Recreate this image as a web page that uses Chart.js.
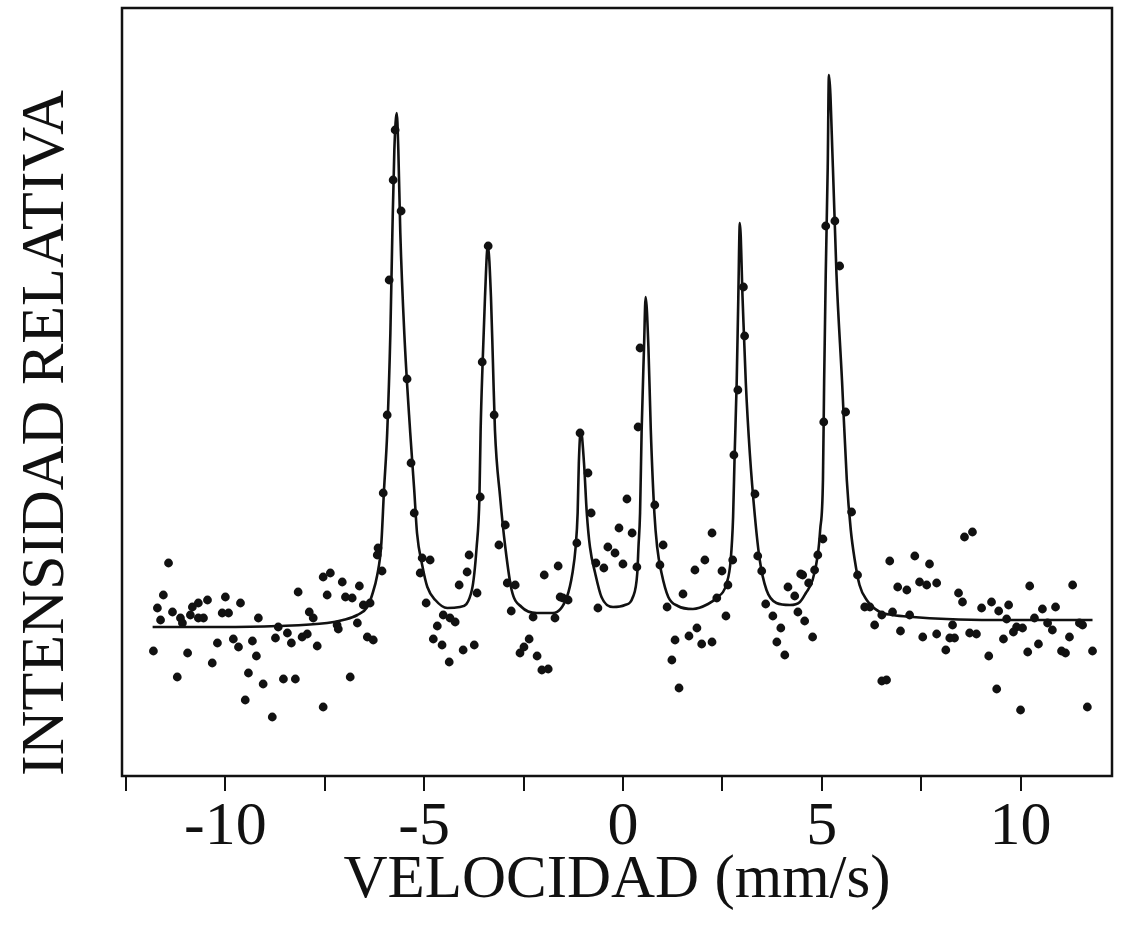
<!DOCTYPE html>
<html>
<head>
<meta charset="utf-8">
<title>Espectro Mössbauer</title>
<script src="https://cdn.jsdelivr.net/npm/chart.js@4.4.1/dist/chart.umd.min.js"></script>
<style>
  html, body { margin: 0; padding: 0; background: #fff; }
  #wrap { width: 1123px; height: 945px; }
</style>
</head>
<body>
<div id="wrap"><canvas id="spectrum" width="1123" height="945"></canvas></div>
<script>
// velocity axis (mm/s) and tick positions
var xMin = -12.6;
var xMax = 12.3;
var xTickValues = [-12.5, -10, -7.5, -5, -2.5, 0, 2.5, 5, 7.5, 10];

// relative intensity, arbitrary units (no y ticks in the original)
var yMin = 0;
var yMax = 768;

// fitted curve (sextet)
var curveX = [-11.83, -10.13, -8.69, -7.44, -7.04, -6.68, -6.43, -6.31, -6.18, -6.08, -6.01, -5.93, -5.85, -5.80, -5.75, -5.69,
  -5.65, -5.60, -5.50, -5.35, -5.25, -5.18, -5.05, -4.92, -4.72, -4.42, -4.10, -3.80, -3.68, -3.61, -3.58, -3.53, -3.47, -3.40,
  -3.32, -3.27, -3.22, -3.09, -2.96, -2.80, -2.55, -2.17, -1.76, -1.41, -1.27, -1.19, -1.14, -1.11, -1.06,
  -0.98, -0.91, -0.83, -0.70, -0.54, -0.25, 0.05, 0.25, 0.36, 0.39, 0.43, 0.47, 0.53, 0.57,
  0.64, 0.70, 0.79, 0.86, 0.97, 1.14, 1.38, 1.76, 2.14, 2.35, 2.61, 2.71, 2.77, 2.81, 2.86, 2.90, 2.94,
  3.01, 3.09, 3.19, 3.32, 3.44, 3.61, 3.86, 4.20, 4.45, 4.60, 4.77, 4.90, 4.96, 5.03, 5.06, 5.10, 5.15, 5.18,
  5.28, 5.37, 5.51, 5.63, 5.73, 5.83, 5.95, 6.13, 6.46, 6.78, 7.29, 8.14, 9.30, 11.81];
var curveY = [149, 149, 150, 153, 156, 161, 169, 181, 201, 231, 286, 343, 443, 543, 626, 663,
  626, 543, 443, 343, 286, 243, 211, 189, 176, 168, 169, 186, 229, 279, 346, 413, 479, 531,
  479, 413, 346, 279, 229, 186, 169, 163, 163, 179, 203, 229, 263, 313, 346,
  313, 263, 229, 203, 179, 169, 171, 179, 203, 229, 263, 346, 429, 479,
  429, 346, 263, 229, 203, 179, 170, 167, 172, 178, 193, 216, 259, 323, 393, 476, 553,
  476, 393, 323, 259, 216, 186, 173, 171, 174, 183, 196, 221, 246, 296, 395, 502, 609, 701,
  609, 502, 395, 296, 246, 216, 191, 176, 164, 161, 159, 157, 156, 156];

// measured points
var dataX = [
  -11.43, -11.56, -11.71, -11.63, -11.33, -11.13, -11.08, -10.83, -10.68, -10.45, -10.88, -10.68, -10.55, -10.00, -10.08, -9.92,
  -9.62, -9.17, -11.81, -10.95, -11.21, -10.33, -10.20, -9.80, -9.67, -9.32, -9.22, -9.42, -9.50, -9.05, -8.82, -8.74,
  -8.67, -8.44, -8.34, -8.07, -7.94, -8.54, -8.24, -7.69, -8.17, -7.89, -7.79, -7.54, -7.36, -7.44, -7.06, -6.98,
  -6.81, -6.63, -6.53, -6.36, -7.19, -7.16, -6.68, -6.43, -6.28, -6.86, -7.54, -6.18, -6.06,
  -5.73, -5.78, -5.58, -5.88, -5.43, -5.93, -5.33, -6.03, -5.25, -6.16,
  -5.05, -4.85, -5.10, -3.87, -3.92, -4.12, -3.67, -4.95, -4.52, -4.35, -4.22, -4.67, -4.77, -4.55, -4.02, -3.74,
  -4.37, -3.12, -2.91, -2.71, -1.63, -1.98, -1.58, -1.38, -2.81, -2.26, -1.71, -2.36, -2.49, -2.59, -2.16, -2.04,
  -1.88, -0.68, -0.48, -0.38, -0.20, 0.00, 0.35, -0.63, -1.16, 0.93, 1.01, 1.11, 1.51, 1.81, 1.86, 1.66, 1.31, 1.23, 1.41,
  -3.39, -3.54, -3.24, -3.59, -2.96,
  -1.08, -0.88, -0.80, -1.51, 0.10, -0.10, 0.23, 0.43, 0.38, 0.80,
  2.24, 2.06, 2.49, 2.36, 2.59, 1.98, 2.24, 2.76, 5.03, 4.82, 4.52, 4.15, 4.32, 4.67, 3.59, 3.77,
  4.40, 4.57, 3.97, 3.87, 4.77, 4.07, 5.75, 5.90, 6.08, 6.21, 6.51, 6.33, 6.71, 7.34, 7.71, 6.91,
  7.14, 7.46, 7.64, 7.89, 8.44, 8.54, 8.59, 8.79, 6.98, 7.54, 7.89, 8.22, 8.12, 8.29, 6.51, 6.63,
  6.78, 7.21, 8.72, 8.89, 8.34,
  3.03, 3.06, 2.89, 2.79, 3.32, 2.64, 3.39, 3.49,
  5.10, 5.33, 5.45, 5.05, 5.60, 4.90, 4.47,
  10.23, 11.31, 9.27, 9.02, 9.45, 9.70, 10.55, 10.88, 9.65, 10.35, 9.90, 10.05, 10.68, 10.80, 11.48, 11.56,
  9.82, 9.57, 10.45, 11.23, 11.03, 11.13, 11.81, 10.18, 9.20, 9.40, 10.00, 11.68];
var dataY = [
  213, 181, 168, 156, 164, 158, 153, 169, 173, 176, 161, 158, 158, 179, 163, 163,
  173, 158, 125, 123, 99, 113, 133, 137, 129, 135, 120, 103, 76, 92, 59, 138,
  149, 143, 133, 139, 142, 97, 97, 130, 184, 164, 158, 199, 203, 181, 194, 179,
  178, 190, 171, 173, 151, 147, 153, 139, 136, 99, 69, 221, 205,
  646, 596, 565, 496, 397, 361, 313, 283, 263, 228,
  218, 216, 203, 221, 204, 191, 183, 173, 161, 158, 154, 150, 137, 131, 126, 131,
  114, 231, 193, 191, 210, 201, 179, 176, 165, 159, 158, 137, 129, 123, 120, 106,
  107, 213, 208, 229, 223, 212, 209, 168, 233, 211, 231, 169, 182, 206, 148, 140, 136, 116, 88,
  530, 414, 361, 279, 251,
  343, 303, 263, 178, 277, 248, 243, 428, 349, 271,
  243, 216, 205, 178, 160, 132, 134, 216, 237, 206, 201, 189, 180, 193, 172, 160,
  164, 155, 148, 134, 139, 121, 264, 201, 169, 169, 161, 151, 215, 220, 212, 189,
  186, 194, 191, 193, 183, 174, 239, 244, 145, 139, 142, 138, 126, 151, 95, 96,
  164, 161, 143, 142, 138,
  489, 440, 386, 321, 282, 191, 220, 205,
  550, 555, 510, 354, 364, 221, 202,
  190, 191, 174, 168, 165, 171, 167, 169, 157, 158, 149, 148, 153, 146, 153, 151,
  144, 137, 132, 139, 125, 123, 125, 124, 120, 87, 66, 69];

var ink = '#111111';
var serif = '"Liberation Serif", "Times New Roman", Times, serif';

function toPoints(xs, ys) {
  var pts = [];
  for (var i = 0; i < xs.length; i++) {
    pts.push({ x: xs[i], y: ys[i] });
  }
  return pts;
}

// box around the plot area
var framePlugin = {
  id: 'frame',
  afterDatasetsDraw: function(chart) {
    var a = chart.chartArea;
    var ctx = chart.ctx;
    ctx.save();
    ctx.strokeStyle = ink;
    ctx.lineWidth = 2.5;
    ctx.strokeRect(a.left, a.top, a.right - a.left, a.bottom - a.top);
    ctx.restore();
  }
};

function initSpectrum() {
  var ctx = document.getElementById('spectrum').getContext('2d');

  var spectrumData = {
    datasets: [{
      label: 'Ajuste',
      data: toPoints(curveX, curveY),
      showLine: true,
      borderColor: ink,
      borderWidth: 2.6,
      pointRadius: 0,
      cubicInterpolationMode: 'monotone',
      fill: false
    }, {
      label: 'Datos',
      data: toPoints(dataX, dataY),
      showLine: false,
      pointRadius: 4.4,
      pointBackgroundColor: ink,
      pointBorderWidth: 0
    }]
  };

  var spectrumOptions = {
    responsive: false,
    devicePixelRatio: 1,
    animation: false,
    layout: {
      padding: { top: 8, right: 11, bottom: 0, left: 0 }
    },
    plugins: {
      legend: { display: false },
      tooltip: { enabled: false }
    },
    scales: {
      x: {
        type: 'linear',
        min: xMin,
        max: xMax,
        afterBuildTicks: function(scale) {
          scale.ticks = xTickValues.map(function(v) { return { value: v }; });
        },
        afterFit: function(scale) { scale.height = 169; },
        grid: {
          drawOnChartArea: false,
          drawTicks: true,
          tickLength: 15,
          color: ink,
          lineWidth: 2
        },
        border: { display: false },
        ticks: {
          autoSkip: false,
          maxRotation: 0,
          padding: 0,
          color: ink,
          font: { family: serif, size: 62 },
          callback: function(v) { return v % 5 === 0 ? String(v) : ''; }
        },
        title: {
          display: true,
          text: 'VELOCIDAD (mm/s)',
          color: ink,
          font: { family: serif, size: 61 },
          padding: { top: 0, bottom: 27 }
        }
      },
      y: {
        min: yMin,
        max: yMax,
        afterFit: function(scale) { scale.width = 122; },
        grid: { display: false },
        border: { display: false },
        ticks: { display: false },
        title: {
          display: true,
          text: 'INTENSIDAD RELATIVA',
          align: 'start',
          color: ink,
          font: { family: serif, size: 62 },
          padding: { top: 10, bottom: 0 }
        }
      }
    }
  };

  new Chart(ctx, {
    type: 'scatter',
    data: spectrumData,
    options: spectrumOptions,
    plugins: [framePlugin]
  });
}

initSpectrum();
</script>
</body>
</html>
